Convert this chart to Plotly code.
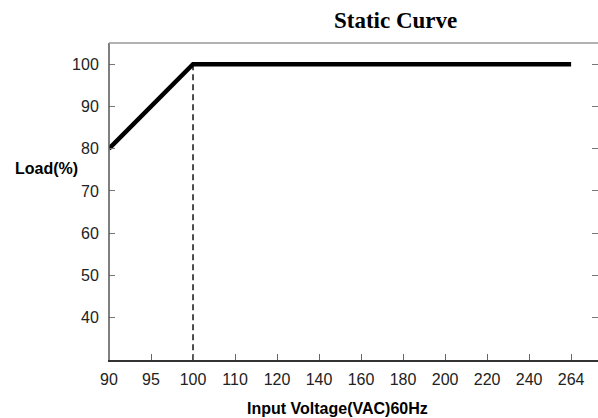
import plotly.graph_objects as go

# Data
x_labels = ["90", "95", "100", "110", "120", "140", "160", "180", "200", "220", "240", "264"]
curve_x = ["90", "100", "264"]
curve_y = [80, 100, 100]
dash_x = ["100", "100"]
dash_y = [100, 30]
y_ticks = [40, 50, 60, 70, 80, 90, 100]

tick_font = dict(family="Liberation Sans Narrow, Arial Narrow, Liberation Sans, Arial", size=16, color="#222222")

fig = go.Figure()
fig.add_trace(go.Scatter(x=dash_x, y=dash_y, mode="lines",
                         line=dict(color="#222222", width=1.6, dash="6px,4px"),
                         showlegend=False, hoverinfo="skip"))
fig.add_trace(go.Scatter(x=curve_x, y=curve_y, mode="lines",
                         line=dict(color="black", width=4.5),
                         showlegend=False))

fig.update_layout(
    width=598, height=418,
    margin=dict(l=109, r=0, t=43, b=58),
    paper_bgcolor="white", plot_bgcolor="white",
    xaxis=dict(type="category", categoryorder="array", categoryarray=x_labels,
               range=[0, 11.64], showgrid=False, zeroline=False,
               showline=True, linecolor="#333333", linewidth=1.5,
               ticks="inside", ticklen=6, tickcolor="#666666", tickwidth=1,
               tickfont=tick_font, ticklabelstandoff=4),
    yaxis=dict(range=[30, 105], tickvals=y_ticks, showgrid=False, zeroline=False,
               showline=True, linecolor="white", linewidth=1, mirror="ticks",
               ticks="inside", ticklen=6, tickcolor="#777777", tickwidth=1,
               tickfont=tick_font, ticklabelstandoff=6),
    shapes=[
        dict(type="line", xref="paper", yref="paper", x0=0, x1=0, y0=0, y1=1,
             line=dict(color="#555555", width=1.5)),
        dict(type="line", xref="paper", yref="paper", x0=0, x1=1, y0=1, y1=1,
             line=dict(color="#999999", width=1.5)),
    ],
    annotations=[
        dict(text="<b>Static Curve</b>", xref="paper", yref="paper",
             x=(395 - 109) / 489, y=1 + (43 - 21) / 317, xanchor="center", yanchor="middle",
             showarrow=False, font=dict(family="Liberation Serif, Times New Roman, serif", size=23, color="black")),
        dict(text="<b>Load(%)</b>", xref="paper", yref="paper",
             x=-(109 - 13) / 489, y=(360 - 168) / 317, xanchor="left", yanchor="middle",
             showarrow=False, font=dict(family="Liberation Sans, Arial, sans-serif", size=16, color="black")),
        dict(text="<b>Input Voltage(VAC)60Hz</b>", xref="paper", yref="paper",
             x=(337 - 109) / 489, y=-(408 - 360) / 317, xanchor="center", yanchor="middle",
             showarrow=False, font=dict(family="Liberation Sans, Arial, sans-serif", size=16, color="black")),
    ],
)

fig.write_html("out.html", config={"displayModeBar": False},
               post_script="document.body.style.margin='0px';document.body.style.overflow='hidden';")
